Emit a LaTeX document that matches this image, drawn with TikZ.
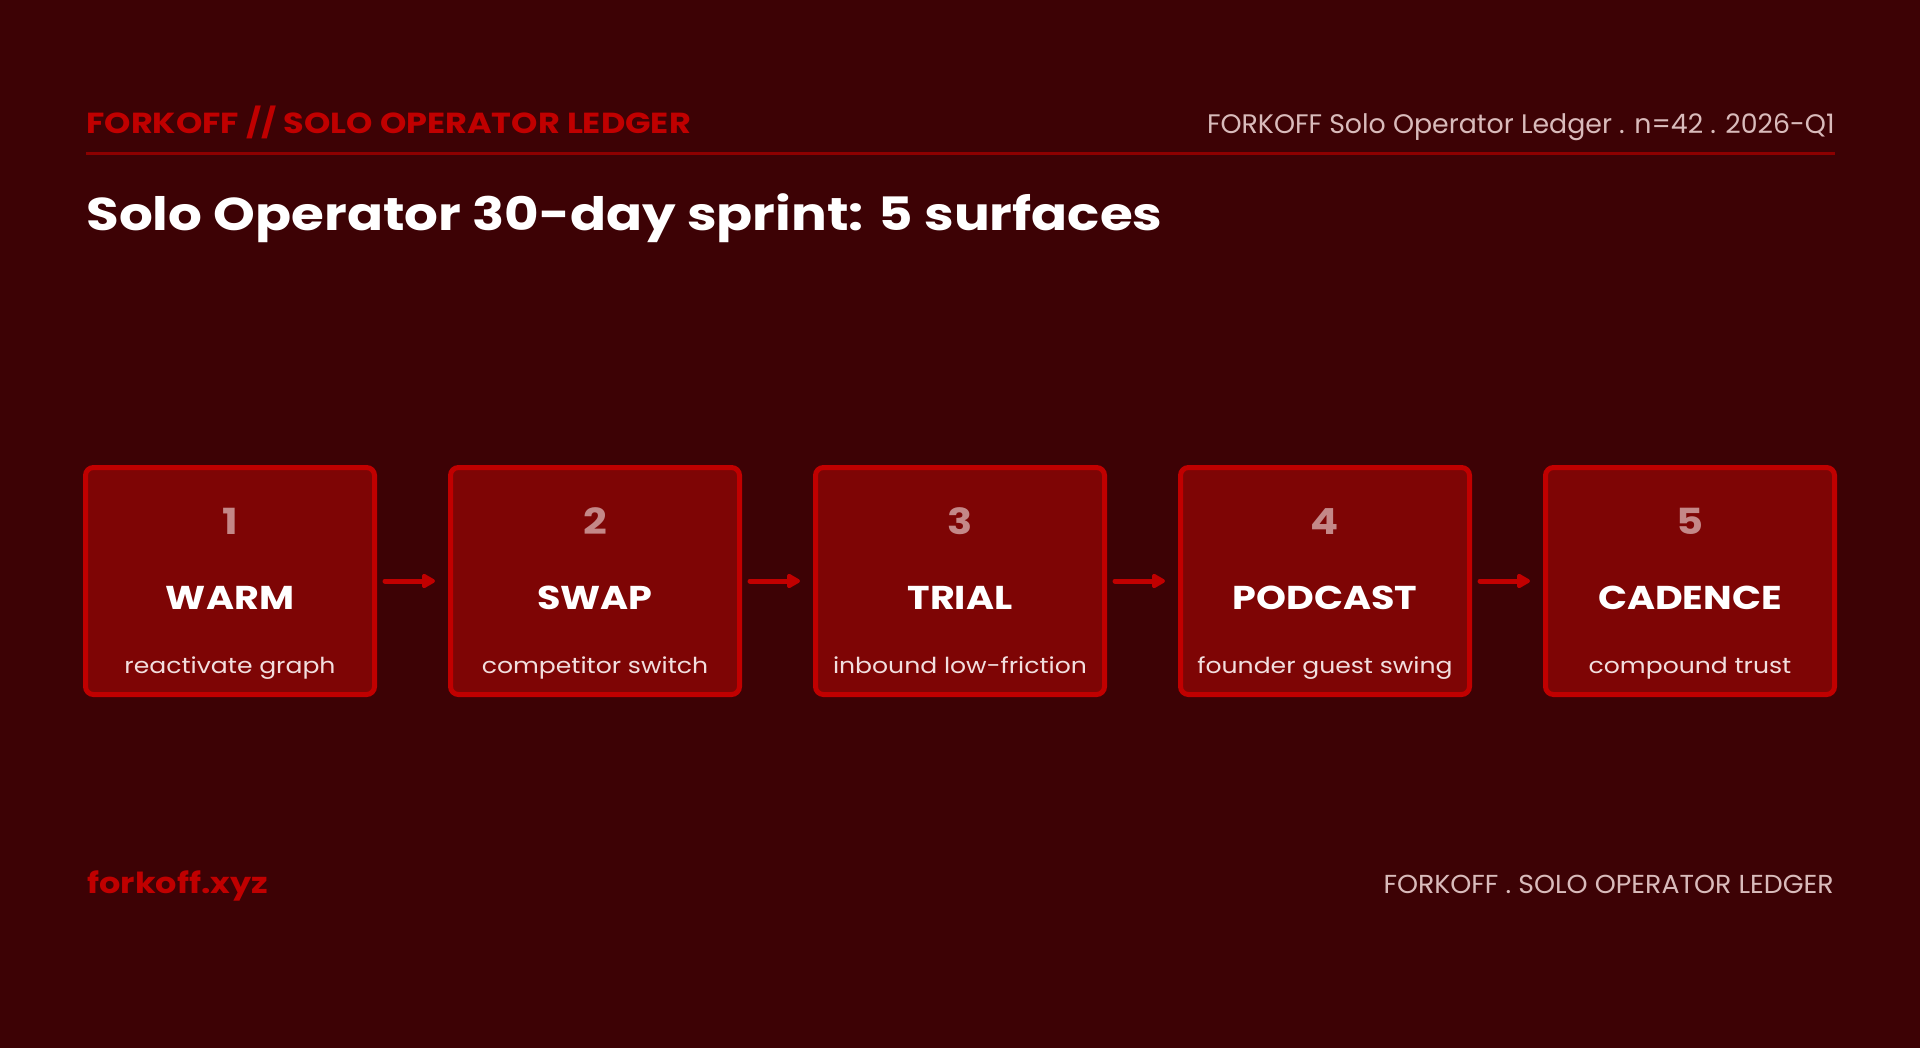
\documentclass[tikz,border=0pt]{standalone}
\usepackage{fontspec}
\setmainfont{Poppins}
\newfontfamily\widef[FakeStretch=1.155]{Poppins}
\newfontfamily\subf[FakeStretch=1.14]{Poppins}
\newfontfamily\frf[FakeStretch=1.03]{Poppins}
\usetikzlibrary{arrows.meta}
\definecolor{bgc}{HTML}{3D0205}
\definecolor{boxfill}{HTML}{7E0505}
\definecolor{boxline}{HTML}{C00000}
\definecolor{rulec}{HTML}{8C0000}
\definecolor{numc}{HTML}{C48888}
\definecolor{subc}{HTML}{F2DEDE}
\definecolor{lightc}{HTML}{D9BBBB}
\tikzset{
  stagebox/.style={draw=boxline, fill=boxfill, line width=2.5pt, rounded corners=4pt,
    minimum width=144.5pt, minimum height=113.5pt, inner sep=0pt},
  numtxt/.style={text=numc, font=\widef\fontsize{18}{20}\selectfont\bfseries, inner sep=0pt},
  titletxt/.style={text=white, font=\widef\fontsize{16.5}{19}\selectfont\bfseries, inner sep=0pt},
  subtxt/.style={text=subc, font=\subf\fontsize{11}{13}\selectfont, inner sep=0pt, anchor=base},
  flow/.style={draw=boxline, line width=2.5pt, line cap=round,
    -{Triangle[length=7.5pt,width=8pt,round]}, shorten <=4pt, shorten >=6.5pt},
}
\begin{document}
\begin{tikzpicture}[x=0.5pt,y=-0.5pt]
\fill[bgc] (0,0) rectangle (1920,1048);
\useasboundingbox (0,0) rectangle (1920,1048);
% header
\node[anchor=base west, inner sep=0pt, text=boxline, font=\widef\fontsize{14.5}{17}\selectfont\bfseries] (hl) at (86,134) {FORKOFF // SOLO OPERATOR LEDGER};
\node[anchor=base east, inner sep=0pt, text=lightc, font=\fontsize{13.4}{16}\selectfont] (hr) at (1835,134) {FORKOFF Solo Operator Ledger . n=42 . 2026-Q1};
\coordinate (rl) at (86,154);
\coordinate (rr) at (1835,154);
\draw[rulec, line width=1.5pt] (rl) -- (rr);
\node[anchor=base west, inner sep=0pt, text=white, font=\widef\fontsize{23}{27}\selectfont\bfseries] (title) at (86,230) {Solo Operator 30-day sprint: 5 surfaces};
% boxes
\foreach \i/\n/\t/\s in {0/1/WARM/reactivate graph, 1/2/SWAP/competitor switch, 2/3/TRIAL/inbound low-friction, 3/4/PODCAST/founder guest swing, 4/5/CADENCE/compound trust}{
  \node[stagebox] (b\n) at ({230+365*\i},581) {};
  \node[numtxt] (n\n) at ({230+365*\i},521.5) {\n};
  \node[titletxt] (t\n) at ({230+365*\i},598) {\t};
  \node[subtxt] (s\n) at ({230+365*\i},673) {\s};
}
\draw[flow] (b1.east) -- (b2.west);
\draw[flow] (b2.east) -- (b3.west);
\draw[flow] (b3.east) -- (b4.west);
\draw[flow] (b4.east) -- (b5.west);
% footer
\node[anchor=base west, inner sep=0pt, text=boxline, font=\widef\fontsize{14.5}{17}\selectfont\bfseries] (fl) at (87,893) {forkoff.xyz};
\node[anchor=base east, inner sep=0pt, text=lightc, font=\frf\fontsize{13}{16}\selectfont] (fr) at (1834,893) {FORKOFF . SOLO OPERATOR LEDGER};
\end{tikzpicture}
\end{document}
